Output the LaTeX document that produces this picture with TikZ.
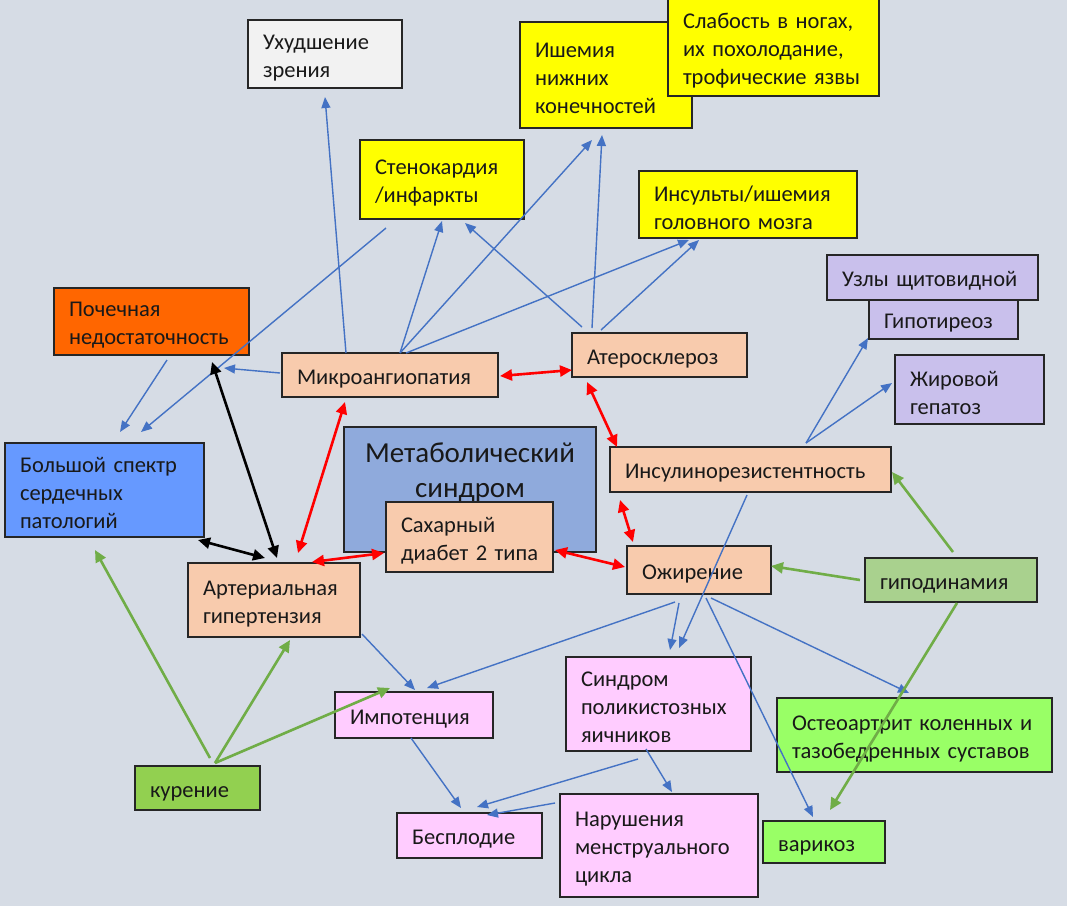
\documentclass[tikz,border=0pt]{standalone}
\usepackage{fontspec}
\setmainfont{Carlito}
\usetikzlibrary{arrows.meta,calc}
\lefthyphenmin=64
\definecolor{bg}{HTML}{D6DCE5}
\definecolor{arrblue}{HTML}{4472C4}
\definecolor{arrgreen}{HTML}{70AD47}
\definecolor{arrred}{HTML}{FF0000}
\definecolor{peach}{HTML}{F8CBAD}
\definecolor{yel}{HTML}{FFFF00}
\definecolor{orng}{HTML}{FF6600}
\definecolor{lav}{HTML}{C9C0EC}
\definecolor{pnk}{HTML}{FFCCFF}
\definecolor{bigblue}{HTML}{6699FF}
\definecolor{metab}{HTML}{8FAADC}
\definecolor{gdark}{HTML}{A9D18E}
\definecolor{gmid}{HTML}{92D050}
\definecolor{glight}{HTML}{99FF66}
\definecolor{wht}{HTML}{F2F2F2}
\tikzset{
  box/.style={draw=black!85, line width=1.5pt, inner xsep=15pt, inner ysep=0pt, outer sep=0pt,
    align=left, font=\fontsize{22.5}{28}\selectfont, text=black!90, anchor=center,
    execute at begin node={\rule{0pt}{22pt}}},
  bluearrow/.style={draw=arrblue, line width=1.4pt, -{Triangle[length=11pt,width=9pt]}},
  redarrow/.style={draw=arrred, line width=2.6pt, {Triangle[length=12pt,width=11pt]}-{Triangle[length=12pt,width=11pt]}},
  blackarrow/.style={draw=black, line width=2.6pt, {Triangle[length=12pt,width=11pt]}-{Triangle[length=12pt,width=11pt]}},
  greenarrow/.style={draw=arrgreen, line width=2.6pt, -{Triangle[length=12pt,width=11pt]}},
}
\newcommand{\bx}[7]{%
  \pgfmathsetmacro\bw{#4-#2}%
  \pgfmathsetmacro\bh{#5-#3}%
  \pgfmathsetmacro\tw{#4-#2-30}%
  \pgfmathsetmacro\cx{(#2+#4)/2}%
  \pgfmathsetmacro\cy{(#3+#5)/2}%
  \node[box, fill=#6, minimum width=\bw pt, minimum height=\bh pt, text width=\tw pt] (#1) at (\cx,\cy) {#7};%
}
\begin{document}
\begin{tikzpicture}[x=1pt,y=-1pt]
\fill[bg] (0,0) rectangle (1067,906);
\useasboundingbox (0,0) rectangle (1067,906);
% boxes
\bx{zr}{248}{20}{402}{88}{wht}{Ухудшение\\зрения}
\bx{ish}{520}{22}{692}{128}{yel}{Ишемия\\нижних\\конечностей}
\bx{slab}{668}{-2}{879}{96}{yel}{Слабость~в~ногах,\\их~похолодание,\\трофические~язвы}
\bx{sten}{360}{140}{524}{219}{yel}{Стенокардия\\/инфаркты}
\bx{insult}{639}{171}{857}{238}{yel}{Инсульты/ишемия\\головного~мозга}
\bx{poch}{54}{288}{249}{355}{orng}{Почечная\\недостаточность}
\bx{micro}{282}{353}{498}{397}{peach}{Микроангиопатия}
\bx{ather}{572}{333}{747}{377}{peach}{Атеросклероз}
\bx{uzly}{827}{255}{1038}{300}{lav}{Узлы~щитовидной}
\bx{gipo}{869}{300}{1018}{339}{lav}{Гипотиреоз}
\bx{zhir}{895}{355}{1044}{424}{lav}{Жировой\\гепатоз}
\bx{bolsh}{5}{443}{204}{537}{bigblue}{Большой~спектр\\сердечных\\патологий}
\bx{meta}{344}{427}{596}{552}{metab}{}
\node[font=\fontsize{29}{35}\selectfont, align=center, inner sep=0pt, text=black!90] (metat) at (470,472) {Метаболический\\синдром};
\bx{sah}{386}{502}{553}{572}{peach}{Сахарный\\диабет~2~типа}
\bx{insul}{610}{447}{891}{492}{peach}{Инсулинорезистентность}
\bx{ozh}{627}{546}{771}{594}{peach}{Ожирение}
\bx{gipod}{865}{558}{1037}{602}{gdark}{гиподинамия}
\bx{art}{188}{563}{360}{637}{peach}{Артериальная\\гипертензия}
\bx{imp}{335}{692}{493}{738}{pnk}{Импотенция}
\bx{kur}{135}{766}{260}{810}{gmid}{курение}
\bx{bespl}{397}{813}{542}{858}{pnk}{Бесплодие}
\bx{sindr}{566}{657}{751}{751}{pnk}{Синдром\\поликистозных\\яичников}
\bx{osteo}{777}{698}{1052}{772}{glight}{Остеоартрит~коленных~и\\тазобедренных~суставов}
\bx{narush}{560}{794}{758}{897}{pnk}{Нарушения\\менструального\\цикла}
\bx{varik}{763}{821}{885}{863}{glight}{варикоз}
% blue arrows
\draw[bluearrow] ($(micro.north west)+(64,0)$) -- ($(zr.north west)+(77,77)$);
\draw[bluearrow] ($(sten.north west)+(26,88)$) -- ($(bolsh.north west)+(136,-11)$);
\draw[bluearrow] ($(poch.north west)+(113,72)$) -- ($(bolsh.north west)+(115,-11)$);
\draw[bluearrow] ($(micro.north west)+(-2,20)$) -- ($(poch.north west)+(170,80)$);
\draw[bluearrow] ($(micro.north west)+(118,0)$) -- ($(sten.north west)+(82,81)$);
\draw[bluearrow] ($(micro.north west)+(118,0)$) -- ($(ish.north west)+(72,118)$);
\draw[bluearrow] ($(micro.north west)+(124,0)$) -- ($(insult.north west)+(50,69)$);
\draw[bluearrow] ($(ather.north west)+(29,-3)$) -- ($(insult.north west)+(60,69)$);
\draw[bluearrow] ($(ather.north west)+(10,-6)$) -- ($(sten.north west)+(105,83)$);
\draw[bluearrow] ($(ather.north west)+(20,-5)$) -- ($(ish.north west)+(82,113)$);
\draw[bluearrow] ($(insul.north west)+(196,-4)$) -- ($(gipo.north west)+(-1,38)$);
\draw[bluearrow] ($(insul.north west)+(196,-4)$) -- ($(zhir.north west)+(-3,28)$);
\draw[bluearrow] ($(insul.north west)+(137,48)$) -- ($(sindr.north west)+(113,-9)$);
\draw[bluearrow] ($(ozh.north west)+(52,57)$) -- ($(sindr.north west)+(104,-7)$);
\draw[bluearrow] ($(ozh.north west)+(48,56)$) -- ($(imp.north west)+(92,-4)$);
\draw[bluearrow] ($(ozh.north west)+(84,52)$) -- ($(osteo.north west)+(132,-5)$);
\draw[bluearrow] ($(ozh.north west)+(79,52)$) -- ($(varik.north west)+(50,-4)$);
\draw[bluearrow] ($(art.north west)+(174,71)$) -- ($(imp.north west)+(80,-2)$);
\draw[bluearrow] ($(imp.north west)+(76,46)$) -- ($(bespl.north west)+(64,-5)$);
\draw[bluearrow] ($(sindr.north west)+(72,102)$) -- ($(bespl.north west)+(80,-6)$);
\draw[bluearrow] ($(narush.north west)+(-5,9)$) -- ($(bespl.north west)+(90,2)$);
\draw[bluearrow] ($(sindr.north west)+(80,92)$) -- ($(narush.north west)+(112,-2)$);
% red arrows
\draw[redarrow] ($(micro.north west)+(218,23)$) -- ($(ather.north west)+(0,37)$);
\draw[redarrow] ($(ather.north west)+(15,49)$) -- ($(insul.north west)+(7,0)$);
\draw[redarrow] ($(insul.north west)+(10,53)$) -- ($(ozh.north west)+(6,-4)$);
\draw[redarrow] ($(sah.north west)+(169,48)$) -- ($(ozh.north west)+(-2,21)$);
\draw[redarrow] ($(sah.north west)+(-2,51)$) -- ($(art.north west)+(124,-1)$);
\draw[redarrow] ($(art.north west)+(110,-10)$) -- ($(micro.north west)+(63,49)$);
% black arrows
\draw[blackarrow] ($(bolsh.north west)+(193,97)$) -- ($(art.north west)+(77,-5)$);
\draw[blackarrow] ($(art.north west)+(89,-5)$) -- ($(poch.north west)+(158,74)$);
% green arrows
\draw[greenarrow] ($(kur.north west)+(75,-8)$) -- ($(bolsh.north west)+(90,107)$);
\draw[greenarrow] ($(kur.north west)+(80,-3)$) -- ($(art.north west)+(102,77)$);
\draw[greenarrow] ($(kur.north west)+(80,-3)$) -- ($(imp.north west)+(55,-4)$);
\draw[greenarrow] ($(gipod.north west)+(88,-6)$) -- ($(insul.north west)+(282,25)$);
\draw[greenarrow] ($(gipod.north west)+(-5,22)$) -- ($(ozh.north west)+(144,20)$);
\draw[greenarrow] ($(gipod.north west)+(92,45)$) -- ($(varik.north west)+(67,-11)$);
\end{tikzpicture}
\end{document}
